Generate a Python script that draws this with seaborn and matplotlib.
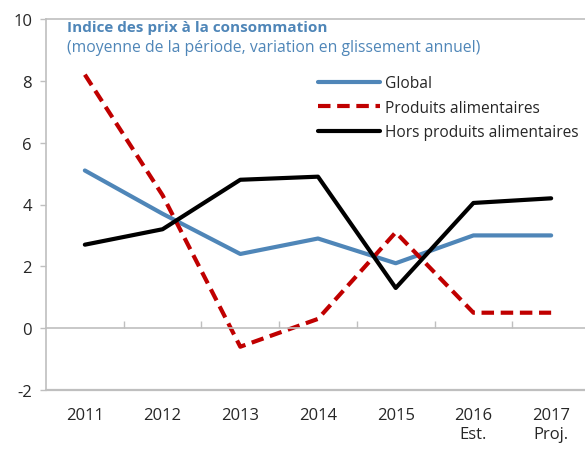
import matplotlib
matplotlib.use("Agg")
import matplotlib.pyplot as plt
import seaborn as sns
import pandas as pd
import numpy as np

years = ["2011", "2012", "2013", "2014", "2015", "2016", "2017"]
tick_labels = ["2011", "2012", "2013", "2014", "2015", "2016\nEst.", "2017\nProj."]
global_cpi = [5.1, 3.7, 2.4, 2.9, 2.1, 3.0, 3.0]
food_cpi = [8.2, 4.3, -0.6, 0.3, 3.1, 0.5, 0.5]
nonfood_cpi = [2.7, 3.2, 4.8, 4.9, 1.3, 4.05, 4.2]
series_names = ["Global", "Produits alimentaires", "Hors produits alimentaires"]
title = "Indice des prix à la consommation"
subtitle = "(moyenne de la période, variation en glissement annuel)"

sns.set_theme(style="white")
plt.rcParams["font.family"] = ["Open Sans", "DejaVu Sans"]

rows = []
for name, vals in zip(series_names, [global_cpi, food_cpi, nonfood_cpi]):
    for i, v in enumerate(vals):
        rows.append({"x": i, "value": v, "serie": name})
df = pd.DataFrame(rows)

palette = {series_names[0]: "#4f86b8", series_names[1]: "#c00000", series_names[2]: "#000000"}
dashes = {series_names[0]: "", series_names[1]: (3, 1.6), series_names[2]: ""}

fig = plt.figure(figsize=(5.85, 4.52), dpi=100)
W, H = 585, 452
ax = fig.add_axes([46 / W, 1 - 391 / H, (590 - 46) / W, (391 - 20) / H])

sns.lineplot(data=df, x="x", y="value", hue="serie", style="serie",
             palette=palette, dashes=dashes, linewidth=3, ax=ax,
             hue_order=series_names, style_order=series_names, sort=False)

gray = "#bfbfbf"
ax.set_xlim(-0.5, 6.5)
ax.set_ylim(-2, 10)
ax.set_yticks(np.arange(-2, 11, 2))
ax.set_yticklabels([str(v) for v in range(-2, 11, 2)])
ax.set_xticks(range(len(years)))
ax.set_xticklabels(tick_labels, linespacing=1.3)
ax.set_xticks(np.arange(0.5, 6.5, 1), minor=True)
ax.set_xlabel("")
ax.set_ylabel("")

for s in ["left", "top", "bottom"]:
    ax.spines[s].set_color(gray)
    ax.spines[s].set_linewidth(1.2)
ax.spines["right"].set_visible(False)
ax.spines["bottom"].set_position(("data", 0))
ax.axhline(-2, color=gray, linewidth=1.6, clip_on=False, zorder=0)

ax.tick_params(axis="y", which="major", direction="out", length=4, color=gray,
               width=1, labelsize=12, pad=6, labelcolor="#262626", left=True)
ax.tick_params(axis="x", which="major", length=0, labelsize=12, pad=57, labelcolor="#262626")
ax.tick_params(axis="x", which="minor", direction="in", length=5, color=gray, width=1, bottom=True)
for lab in ax.get_xticklabels():
    lab.set_verticalalignment("top")

ax.text(21 / 544, 1 - 8 / 371, title, transform=ax.transAxes, fontsize=11,
        fontweight="bold", color="#4f86b8", va="center", ha="left")
ax.text(21 / 544, 1 - 28 / 371, subtitle, transform=ax.transAxes, fontsize=11.3,
        color="#4f86b8", va="center", ha="left")

leg = ax.legend(loc="upper left", bbox_to_anchor=(318 / W, 1 - 76 / H),
                bbox_transform=fig.transFigure, frameon=False, fontsize=11.2,
                handlelength=4.0, handletextpad=0.3, labelspacing=0.55,
                borderaxespad=0, borderpad=0)
for t in leg.get_texts():
    t.set_color("#262626")

fig.savefig("out.png", dpi=100)
